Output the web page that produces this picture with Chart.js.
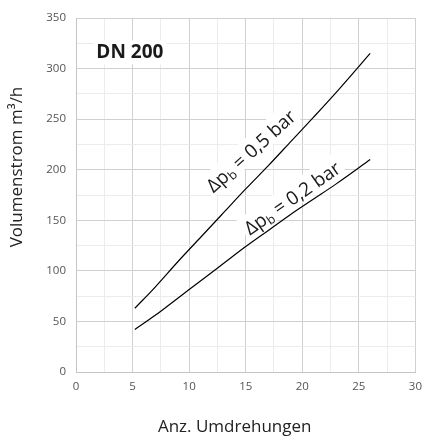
<!DOCTYPE html>
<html>
<head>
<meta charset="utf-8">
<script src="https://cdn.jsdelivr.net/npm/chart.js@4/dist/chart.umd.min.js"></script>
<style>
html,body{margin:0;padding:0;background:#fff;}
#wrap{width:430px;height:442px;}
</style>
</head>
<body>
<div id="wrap"><canvas id="c" width="430" height="442"></canvas></div>
<script>
// Data
const upperX = [5.2, 7, 9, 11, 13, 15, 17, 19, 21, 23.2, 26];
const upperY = [63, 84, 109, 133, 157, 181, 204, 228, 252, 279, 315];
const lowerX = [5.2, 7, 9, 11, 13, 15, 17, 19, 21, 23, 26];
const lowerY = [42, 56, 73, 90, 107, 124, 140, 156, 171, 186, 210];
const xTickLabels = [0, 5, 10, 15, 20, 25, 30];
const yTickLabels = [0, 50, 100, 150, 200, 250, 300, 350];
const upperLabel = "0,5 bar";
const lowerLabel = "0,2 bar";
const chartTitle = "DN 200";
const xTitle = "Anz. Umdrehungen";
const yTitle = "Volumenstrom m\u00B3/h";

const FONT = "'Open Sans', 'Noto Sans', sans-serif";

const toPts = (xs, ys) => xs.map((x, i) => ({x: x, y: ys[i]}));

// label placement (data coordinates) and rotation
const curveLabels = [
  {text: upperLabel, x: 15.5, y: 218, angle: -42},
  {text: lowerLabel, x: 19.15, y: 171.5, angle: -35}
];

const labelPlugin = {
  id: 'labels',
  beforeDatasetsDraw(chart) {
    const ctx = chart.ctx;
    const xs = chart.scales.x, ys = chart.scales.y;
    curveLabels.forEach(l => {
      const cx = xs.getPixelForValue(l.x), cy = ys.getPixelForValue(l.y);
      ctx.save();
      ctx.translate(cx, cy);
      ctx.rotate(l.angle * Math.PI / 180);
      const big = "19px " + FONT, small = "12.5px " + FONT;
      ctx.font = big;
      const wD = ctx.measureText("\u0394p").width;
      const rest = " = " + l.text;
      const wR = ctx.measureText(rest).width;
      ctx.font = small;
      const wB = ctx.measureText("b").width;
      const total = wD + wB + wR;
      ctx.fillStyle = '#fff';
      ctx.fillRect(-total / 2 - 3, -14, total + 6, 23);
      ctx.fillStyle = '#1a1a1a';
      ctx.textBaseline = 'alphabetic';
      ctx.textAlign = 'left';
      let x0 = -total / 2;
      ctx.font = big;
      ctx.fillText("\u0394p", x0, 6);
      x0 += wD;
      ctx.font = small;
      ctx.fillText("b", x0, 9);
      x0 += wB;
      ctx.font = big;
      ctx.fillText(rest, x0, 6);
      ctx.restore();
    });
    // chart title
    const tx = xs.getPixelForValue(1.8), ty = ys.getPixelForValue(316);
    ctx.save();
    ctx.fillStyle = '#fff';
    ctx.font = "bold 19px " + FONT;
    const tw = ctx.measureText(chartTitle).width;
    ctx.fillRect(tx - 3, ty - 12, tw + 6, 24);
    ctx.fillStyle = '#1a1a1a';
    ctx.textBaseline = 'middle';
    ctx.textAlign = 'left';
    ctx.fillText(chartTitle, tx, ty);
    ctx.restore();
  },
  afterDraw(chart) {
    const ctx = chart.ctx;
    const a = chart.chartArea;
    ctx.save();
    ctx.fillStyle = '#222';
    ctx.font = "17px " + FONT;
    ctx.textAlign = 'center';
    ctx.textBaseline = 'middle';
    ctx.fillText(xTitle, (a.left + a.right) / 2 - 11, 427);
    ctx.translate(17, (a.top + a.bottom) / 2 - 28);
    ctx.rotate(-Math.PI / 2);
    ctx.fillText(yTitle, 0, 0);
    ctx.restore();
  }
};

const gridColor = (ctx, step) => {
  const v = ctx.tick ? ctx.tick.value : 0;
  return (Math.abs(v / step - Math.round(v / step)) < 1e-6) ? '#d0d0d0' : '#ececec';
};

new Chart(document.getElementById('c'), {
  type: 'scatter',
  data: {
    datasets: [
      {data: toPts(upperX, upperY), showLine: true, borderColor: '#000', borderWidth: 1.2,
       pointRadius: 0, cubicInterpolationMode: 'monotone', fill: false},
      {data: toPts(lowerX, lowerY), showLine: true, borderColor: '#000', borderWidth: 1.2,
       pointRadius: 0, cubicInterpolationMode: 'monotone', fill: false}
    ]
  },
  options: {
    responsive: false,
    animation: false,
    layout: {padding: {top: 18, right: 6, left: 0, bottom: 0}},
    plugins: {legend: {display: false}, tooltip: {enabled: false}},
    scales: {
      x: {
        type: 'linear', min: 0, max: 30,
        afterFit(s) { s.height = 70; },
        ticks: {
          stepSize: 2.5, padding: 8, color: '#555', maxRotation: 0, autoSkip: false,
          font: {family: FONT, size: 11.5},
          callback: v => xTickLabels.includes(v) ? String(v) : ''
        },
        grid: {drawTicks: false, color: c => gridColor(c, 5), lineWidth: 1},
        border: {color: '#c4c4c4'}
      },
      y: {
        type: 'linear', min: 0, max: 350,
        afterFit(s) { s.width = 76; },
        ticks: {
          stepSize: 25, padding: 10, color: '#555', autoSkip: false,
          font: {family: FONT, size: 11.5},
          callback: v => yTickLabels.includes(v) ? String(v) : ''
        },
        grid: {drawTicks: false, color: c => gridColor(c, 50), lineWidth: 1},
        border: {color: '#c4c4c4'}
      }
    }
  },
  plugins: [labelPlugin]
});
</script>
</body>
</html>
